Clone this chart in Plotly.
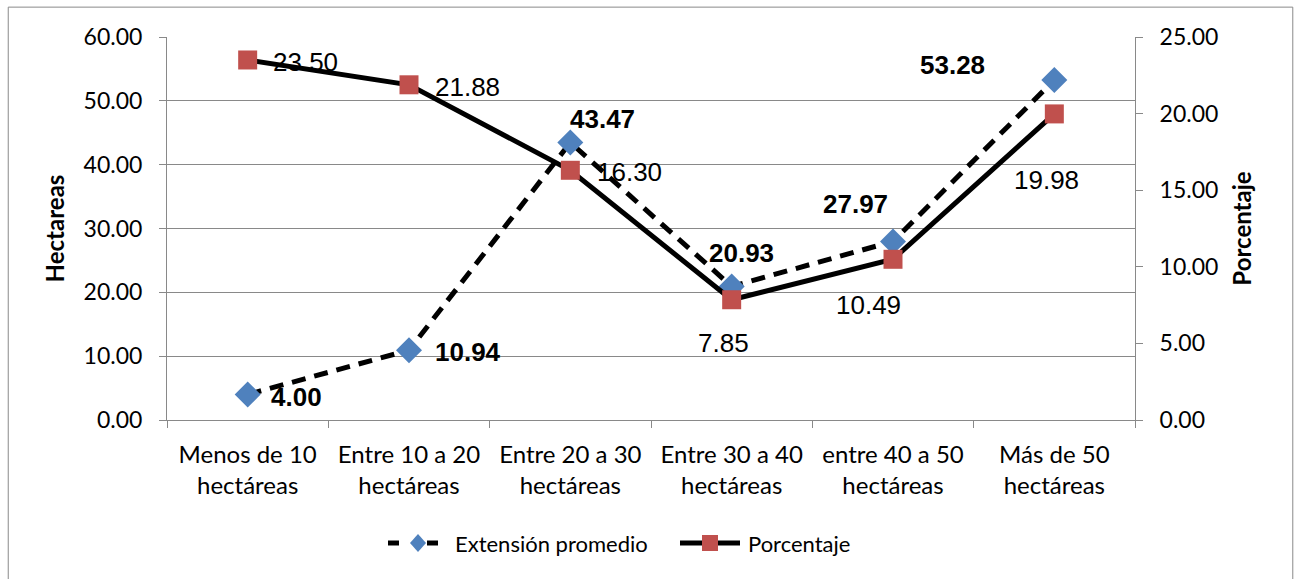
import plotly.graph_objects as go

# Farm size classes and their values
categorias = ["Menos de 10<br>hectáreas", "Entre 10 a 20<br>hectáreas", "Entre 20 a 30<br>hectáreas",
              "Entre 30 a 40<br>hectáreas", "entre 40 a 50<br>hectáreas", "Más de 50<br>hectáreas"]
extension_promedio = [4.00, 10.94, 43.47, 20.93, 27.97, 53.28]   # hectares (left axis)
porcentaje = [23.50, 21.88, 16.30, 7.85, 10.49, 19.98]            # percent (right axis)
series_names = ["Extensión promedio", "Porcentaje"]

left_ticks = [0, 10, 20, 30, 40, 50, 60]
right_ticks = [0, 5, 10, 15, 20, 25]

# Label offsets in pixels (dx, dy) for each data label
ext_offsets = [(49, -3), (59, -2), (32, 24), (10, 33), (-38, 37), (-102, 15)]
pct_offsets = [(58, -2), (58, -2), (59, -2), (-8, -43), (-25, -46), (-8, -66)]

CAL = "Lato, 'Open Sans', sans-serif"
ARIAL = "'Liberation Sans', Arial, sans-serif"
GRID = "#898989"
BLUE = "#4F81BD"
RED = "#C0504D"

# plot area in pixels, used to place the hand-drawn legend
L, R, T, B = 167, 1135, 37, 420
def px(x):
    return (x - L) / (R - L)
def py(y):
    return (B - y) / (B - T)

fig = go.Figure()

fig.add_trace(go.Scatter(
    x=categorias, y=extension_promedio, name=series_names[0],
    mode="lines+markers",
    line=dict(color="black", width=5, dash="14px,9px"),
    marker=dict(symbol="diamond", size=20, color=BLUE),
    yaxis="y", showlegend=False,
))
fig.add_trace(go.Scatter(
    x=categorias, y=porcentaje, name=series_names[1],
    mode="lines+markers",
    line=dict(color="black", width=5),
    marker=dict(symbol="square", size=19, color=RED),
    yaxis="y2", showlegend=False,
))

annotations = []
for c, v, (dx, dy) in zip(categorias, extension_promedio, ext_offsets):
    annotations.append(dict(x=c, y=v, xref="x", yref="y", text=f"<b>{v:.2f}</b>",
                            showarrow=False, xshift=dx, yshift=dy,
                            font=dict(family=ARIAL, size=26, color="black")))
for c, v, (dx, dy) in zip(categorias, porcentaje, pct_offsets):
    annotations.append(dict(x=c, y=v, xref="x", yref="y2", text=f"{v:.2f}",
                            showarrow=False, xshift=dx, yshift=dy,
                            font=dict(family=ARIAL, size=26, color="black")))

# Legend drawn below the plot: line samples, symbols and labels
ly = py(543)
shapes = [dict(type="rect", xref="paper", yref="paper",
               x0=-0.164, x1=1.163, y0=-0.46, y1=1.078,
               line=dict(color=GRID, width=1), fillcolor="rgba(0,0,0,0)", layer="below")]
for a, b in [(388, 399), (427, 438)]:
    shapes.append(dict(type="line", xref="paper", yref="paper", x0=px(a), x1=px(b), y0=ly, y1=ly,
                       line=dict(color="black", width=5)))
shapes.append(dict(type="path", xref="paper", yref="paper",
                   xsizemode="pixel", ysizemode="pixel", xanchor=px(418), yanchor=ly,
                   path="M 0,9 L 8,0 L 0,-9 L -8,0 Z", fillcolor=BLUE, line=dict(width=0)))
shapes.append(dict(type="line", xref="paper", yref="paper", x0=px(680), x1=px(740), y0=ly, y1=ly,
                   line=dict(color="black", width=5)))
shapes.append(dict(type="rect", xref="paper", yref="paper",
                   xsizemode="pixel", ysizemode="pixel", xanchor=px(710), yanchor=ly,
                   x0=-8, x1=8, y0=-8, y1=8, fillcolor=RED, line=dict(width=0)))
for name, x0 in zip(series_names, [453, 746]):
    annotations.append(dict(x=px(x0), y=ly, xref="paper", yref="paper", text=name,
                            showarrow=False, xanchor="left", yanchor="middle",
                            font=dict(family=CAL, size=22, color="black")))

fig.update_layout(
    width=1295, height=579,
    margin=dict(l=L, r=1295 - R, t=T, b=579 - B),
    paper_bgcolor="white", plot_bgcolor="white",
    showlegend=False,
    xaxis=dict(
        range=[-0.5, 5.5],
        showline=True, linecolor=GRID, linewidth=1,
        ticks="outside", ticklen=7, tickcolor=GRID, tickson="boundaries",
        showgrid=False, tickfont=dict(family=CAL, size=24, color="black"),
        ticklabelstandoff=13,
    ),
    yaxis=dict(
        range=[0, 60], tickvals=left_ticks, tickformat=".2f",
        showline=True, linecolor=GRID, linewidth=1,
        ticks="outside", ticklen=7, tickcolor=GRID,
        showgrid=True, gridcolor=GRID, gridwidth=1, zeroline=False,
        tickfont=dict(family=CAL, size=23, color="black"), ticklabelstandoff=12,
        title=dict(text="<b>Hectareas</b>", font=dict(family=CAL, size=24, color="black"), standoff=12),
    ),
    yaxis2=dict(
        range=[0, 25], tickvals=right_ticks, tickformat=".2f",
        overlaying="y", side="right",
        showline=True, linecolor=GRID, linewidth=1,
        ticks="outside", ticklen=7, tickcolor=GRID,
        showgrid=False, zeroline=False,
        tickfont=dict(family=CAL, size=23, color="black"), ticklabelstandoff=12,
        title=dict(text="<b>Porcentaje</b>", font=dict(family=CAL, size=24, color="black"), standoff=16),
    ),
    annotations=annotations,
    shapes=shapes,
)

fig.write_html("out.html")
